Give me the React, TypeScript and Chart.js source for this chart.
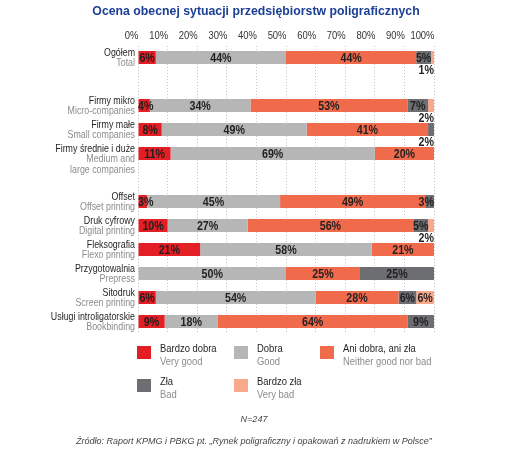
import React, { useEffect, useRef } from 'react';
import { Chart, registerables } from 'chart.js';

Chart.register(...registerables);

// ---- data ----
const chartTitle = 'Ocena obecnej sytuacji przedsiębiorstw poligraficznych';

// empty strings are spacer rows between groups
const categoriesPl = [
  'Ogółem', '', 'Firmy mikro', 'Firmy małe', 'Firmy średnie i duże', '',
  'Offset', 'Druk cyfrowy', 'Fleksografia', 'Przygotowalnia', 'Sitodruk', 'Usługi introligatorskie',
];
const categoriesEn = [
  'Total', '', 'Micro-companies', 'Small companies', 'Medium and\nlarge companies', '',
  'Offset printing', 'Digital printing', 'Flexo printing', 'Prepress', 'Screen printing', 'Bookbinding',
];

const seriesPl = ['Bardzo dobra', 'Dobra', 'Ani dobra, ani zła', 'Zła', 'Bardzo zła'];
const seriesEn = ['Very good', 'Good', 'Neither good nor bad', 'Bad', 'Very bad'];

const veryGood = [6, null, 4, 8, 11, null, 3, 10, 21, 0, 6, 9];
const good = [44, null, 34, 49, 69, null, 45, 27, 58, 50, 54, 18];
const neither = [44, null, 53, 41, 20, null, 49, 56, 21, 25, 28, 64];
const bad = [5, null, 7, 2, 0, null, 3, 5, 0, 25, 6, 9];
const veryBad = [1, null, 2, 0, 0, null, 0, 2, 0, 0, 6, 0];

const xTickValues = [0, 10, 20, 30, 40, 50, 60, 70, 80, 90, 100];

const sampleNote = 'N=247';
const sourceNote = 'Źródło: Raport KPMG i PBKG pt. „Rynek poligraficzny i opakowań z nadrukiem w Polsce”';

// ---- styles ----
const seriesColors = ['#e31e24', '#b6b6b7', '#f06a4c', '#6d6e71', '#f8a98b'];
const SANS = "'Liberation Sans', Arial, Helvetica, sans-serif";
const NARROW_SCALE = 0.82; // condensed look from a regular sans
const DARK = '#231f20';
const GREY_TEXT = '#8c8c8c';

function narrowText(
  ctx: CanvasRenderingContext2D,
  text: string,
  x: number,
  y: number,
  align: CanvasTextAlign,
) {
  ctx.save();
  ctx.translate(x, y);
  ctx.scale(NARROW_SCALE, 1);
  ctx.textAlign = align;
  ctx.fillText(text, 0, 0);
  ctx.restore();
}

const overlayPlugin = {
  id: 'overlay',
  afterDraw(chart: any) {
    const ctx: CanvasRenderingContext2D = chart.ctx;
    const xs = chart.scales.x;
    const ys = chart.scales.y;
    const area = chart.chartArea;
    ctx.save();
    ctx.textBaseline = 'middle';

    // title
    ctx.fillStyle = '#1c3f94';
    ctx.font = `bold 12.3px ${SANS}`;
    ctx.textAlign = 'center';
    ctx.fillText(chartTitle, 256, 12);

    // x tick labels, right edge on the tick
    ctx.fillStyle = '#333333';
    ctx.font = `11.5px ${SANS}`;
    xs.ticks.forEach((t: any) => {
      narrowText(ctx, `${t.value}%`, xs.getPixelForValue(t.value) + 0.5, 36, 'right');
    });

    // category labels: Polish line dark, English lines grey
    ctx.font = `10.8px ${SANS}`;
    categoriesPl.forEach((pl, i) => {
      if (!pl) return;
      const cy = ys.getPixelForValue(i);
      const lines = [pl, ...categoriesEn[i].split('\n')];
      lines.forEach((t, k) => {
        ctx.fillStyle = k === 0 ? DARK : GREY_TEXT;
        narrowText(ctx, t, area.left - 3, cy - 4.5 + k * 10.5, 'right');
      });
    });

    // value labels
    ctx.font = `bold 13px ${SANS}`;
    ctx.fillStyle = DARK;
    chart.data.datasets.forEach((ds: any, d: number) => {
      const meta = chart.getDatasetMeta(d);
      ds.data.forEach((v: number | null, i: number) => {
        if (!v) return;
        const el = meta.data[i];
        if (!el) return;
        const p = el.getProps(['x', 'base', 'y', 'height'], true);
        const x0 = Math.min(p.x, p.base);
        const x1 = Math.max(p.x, p.base);
        const label = `${v}%`;
        const w = ctx.measureText(label).width * NARROW_SCALE;
        if (v <= 2) {
          narrowText(ctx, label, Math.min(x1, area.right), p.y + p.height / 2 + 6.5, 'right');
        } else {
          let cx = (x0 + x1) / 2;
          cx = Math.max(area.left + w / 2, Math.min(area.right - w / 2, cx));
          narrowText(ctx, label, cx, p.y + 0.5, 'center');
        }
      });
    });

    // legend
    const colX = [137, 234, 320];
    const rowY = [346, 379];
    const order = [[0, 1, 2], [3, 4]];
    ctx.font = `11.5px ${SANS}`;
    order.forEach((row, r) => {
      row.forEach((s, c) => {
        const sx = colX[c];
        const sy = rowY[r];
        ctx.fillStyle = seriesColors[s];
        ctx.fillRect(sx, sy, 14, 13);
        ctx.fillStyle = DARK;
        narrowText(ctx, seriesPl[s], sx + 23, sy + 2.5, 'left');
        ctx.fillStyle = GREY_TEXT;
        narrowText(ctx, seriesEn[s], sx + 23, sy + 16, 'left');
      });
    });

    // notes
    ctx.fillStyle = '#444444';
    ctx.font = `italic 9px ${SANS}`;
    ctx.textAlign = 'center';
    ctx.fillText(sampleNote, 254, 419);
    ctx.textAlign = 'left';
    ctx.fillText(sourceNote, 76, 441);

    ctx.restore();
  },
};

export default function App() {
  const canvasRef = useRef<HTMLCanvasElement | null>(null);

  useEffect(() => {
    const canvas = canvasRef.current;
    if (!canvas) return;
    const values = [veryGood, good, neither, bad, veryBad];
    const chart = new Chart(canvas, {
      type: 'bar',
      data: {
        labels: categoriesPl,
        datasets: values.map((data, s) => ({
          label: seriesPl[s],
          data,
          backgroundColor: seriesColors[s],
          borderWidth: 0,
          barPercentage: 0.54,
          categoryPercentage: 1,
        })),
      },
      options: {
        indexAxis: 'y',
        responsive: false,
        animation: false,
        devicePixelRatio: 1,
        layout: { padding: { left: 138, right: 78, top: 0, bottom: 120.5 } },
        plugins: {
          legend: { display: false },
          title: { display: false },
          tooltip: { enabled: false },
        },
        scales: {
          x: {
            type: 'linear',
            position: 'top',
            stacked: true,
            min: 0,
            max: 100,
            afterFit: (s: any) => { s.height = 45.5; },
            afterBuildTicks: (s: any) => { s.ticks = xTickValues.map((v) => ({ value: v })); },
            ticks: { display: false, autoSkip: false, maxRotation: 0, minRotation: 0 },
            grid: { color: '#c4c4c4', drawTicks: false, lineWidth: 1 },
            border: { display: false, dash: [1, 2] },
          },
          y: {
            type: 'category',
            stacked: true,
            display: false,
            grid: { display: false },
          },
        },
      },
      plugins: [overlayPlugin],
    });
    return () => chart.destroy();
  }, []);

  return (
    <div style={{ position: 'fixed', left: 0, top: 0, width: 512, height: 454, background: '#ffffff' }}>
      <canvas ref={canvasRef} width={512} height={454} />
    </div>
  );
}
